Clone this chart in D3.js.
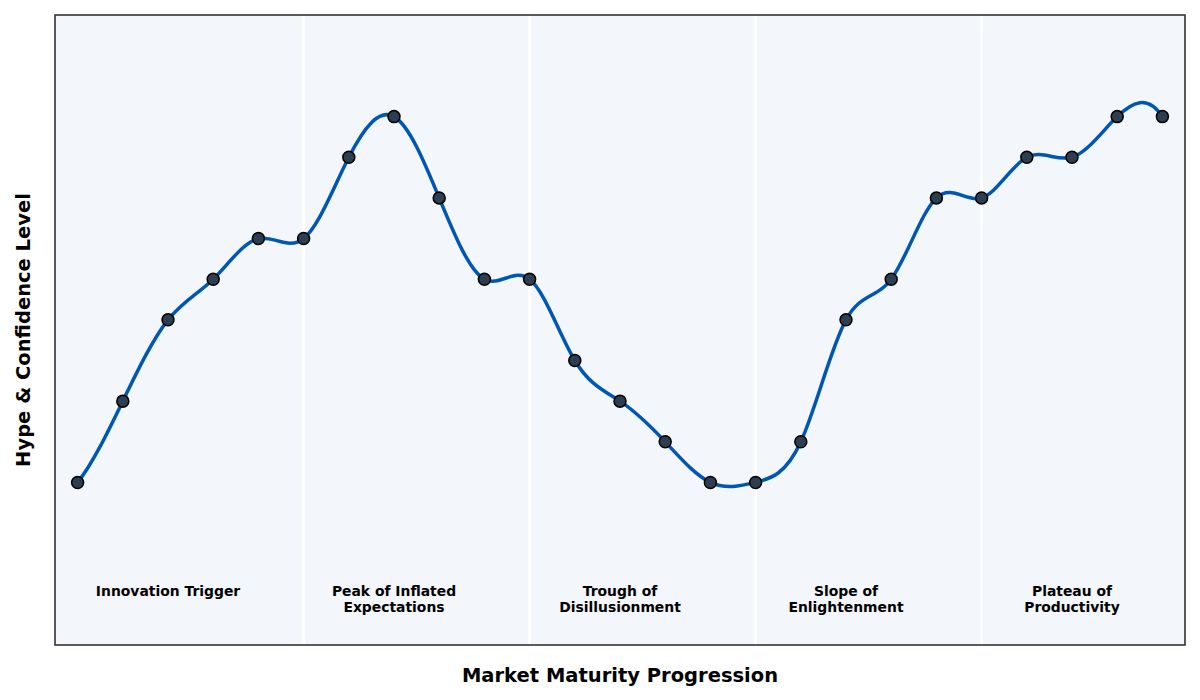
<!DOCTYPE html>
<html>
<head>
<meta charset="utf-8">
<script src="https://cdn.jsdelivr.net/npm/d3@7"></script>
<style>
  body { margin: 0; background: #fff; }
  text { font-family: "DejaVu Sans", sans-serif; }
</style>
</head>
<body>
<div id="chart"></div>
<script>
// hype cycle values, one per step
const steps = d3.range(25);
const hype = [1, 3, 5, 6, 7, 7, 9, 10, 8, 6, 6, 4, 3, 2, 1, 1, 2, 5, 6, 8, 8, 9, 9, 10, 10];

const phaseNames = [
  ["Innovation Trigger"],
  ["Peak of Inflated", "Expectations"],
  ["Trough of", "Disillusionment"],
  ["Slope of", "Enlightenment"],
  ["Plateau of", "Productivity"]
];
const phaseCenters = [2, 7, 12, 17, 22];
const phaseBreaks = [5, 10, 15, 20];

const width = 1200;
const height = 700;
const margin = { top: 15, right: 15, bottom: 55, left: 55 };

// not-a-knot cubic spline as a d3 curve
function curveSpline(context) {
  let xs, ys;
  return {
    areaStart() {},
    areaEnd() {},
    lineStart() { xs = []; ys = []; },
    point(px, py) { xs.push(+px); ys.push(+py); },
    lineEnd() {
      const n = xs.length;
      if (n < 4) {
        xs.forEach((px, i) => i ? context.lineTo(px, ys[i]) : context.moveTo(px, ys[i]));
        return;
      }
      const h = d3.range(n - 1).map(i => xs[i + 1] - xs[i]);
      const A = d3.range(n).map(() => new Array(n).fill(0));
      const b = new Array(n).fill(0);
      A[0][0] = h[1]; A[0][1] = -(h[0] + h[1]); A[0][2] = h[0];
      for (let i = 1; i < n - 1; i++) {
        A[i][i - 1] = h[i - 1];
        A[i][i] = 2 * (h[i - 1] + h[i]);
        A[i][i + 1] = h[i];
        b[i] = 6 * ((ys[i + 1] - ys[i]) / h[i] - (ys[i] - ys[i - 1]) / h[i - 1]);
      }
      A[n - 1][n - 3] = h[n - 2]; A[n - 1][n - 2] = -(h[n - 3] + h[n - 2]); A[n - 1][n - 1] = h[n - 3];
      // gaussian elimination with pivoting
      for (let c = 0; c < n; c++) {
        let p = c;
        for (let r = c + 1; r < n; r++) if (Math.abs(A[r][c]) > Math.abs(A[p][c])) p = r;
        [A[c], A[p]] = [A[p], A[c]]; [b[c], b[p]] = [b[p], b[c]];
        for (let r = c + 1; r < n; r++) {
          const f = A[r][c] / A[c][c];
          if (!f) continue;
          for (let k = c; k < n; k++) A[r][k] -= f * A[c][k];
          b[r] -= f * b[c];
        }
      }
      const M = new Array(n).fill(0);
      for (let r = n - 1; r >= 0; r--) {
        let s = b[r];
        for (let k = r + 1; k < n; k++) s -= A[r][k] * M[k];
        M[r] = s / A[r][r];
      }
      context.moveTo(xs[0], ys[0]);
      for (let i = 0; i < n - 1; i++) {
        const hi = h[i];
        const slope = (ys[i + 1] - ys[i]) / hi;
        const d0 = slope - hi * (2 * M[i] + M[i + 1]) / 6;
        const d1 = slope + hi * (M[i] + 2 * M[i + 1]) / 6;
        context.bezierCurveTo(
          xs[i] + hi / 3, ys[i] + d0 * hi / 3,
          xs[i + 1] - hi / 3, ys[i + 1] - d1 * hi / 3,
          xs[i + 1], ys[i + 1]);
      }
    }
  };
}

const svg = d3.select("#chart")
  .append("svg")
  .attr("width", width)
  .attr("height", height);

const x = d3.scaleLinear()
  .domain([-0.5, 24.5])
  .range([margin.left, width - margin.right]);

const y = d3.scaleLinear()
  .domain([-3, 12.5])
  .range([height - margin.bottom, margin.top]);

svg.append("rect")
  .attr("x", margin.left)
  .attr("y", margin.top)
  .attr("width", width - margin.left - margin.right)
  .attr("height", height - margin.top - margin.bottom)
  .style("fill", "#f3f6fa");

svg.append("g")
  .selectAll("line")
  .data(phaseBreaks)
  .enter()
  .append("line")
  .attr("x1", d => x(d))
  .attr("x2", d => x(d))
  .attr("y1", margin.top)
  .attr("y2", height - margin.bottom)
  .style("stroke", "#ffffff")
  .style("stroke-width", 3);

const line = d3.line()
  .x((d, i) => x(steps[i]))
  .y(d => y(d))
  .curve(curveSpline);

svg.append("path")
  .datum(hype)
  .attr("d", line)
  .style("fill", "none")
  .style("stroke", "#0057b3")
  .style("stroke-width", 3.5);

svg.append("g")
  .selectAll("circle")
  .data(hype)
  .enter()
  .append("circle")
  .attr("cx", (d, i) => x(steps[i]))
  .attr("cy", d => y(d))
  .attr("r", 6)
  .style("fill", "#2c3e50")
  .style("stroke", "#000")
  .style("stroke-width", 1.5);

const labels = svg.append("g")
  .selectAll("text")
  .data(phaseNames)
  .enter()
  .append("text")
  .attr("x", (d, i) => x(phaseCenters[i]))
  .attr("y", y(-1.5))
  .attr("text-anchor", "middle")
  .style("font-size", "13.9px")
  .style("font-weight", "bold");

labels.selectAll("tspan")
  .data(d => d)
  .enter()
  .append("tspan")
  .attr("x", function () { return d3.select(this.parentNode).attr("x"); })
  .attr("dy", (d, i) => i === 0 ? "0.85em" : "1.15em")
  .text(d => d);

svg.append("rect")
  .attr("x", margin.left)
  .attr("y", margin.top)
  .attr("width", width - margin.left - margin.right)
  .attr("height", height - margin.bottom - margin.top)
  .style("fill", "none")
  .style("stroke", "#333")
  .style("stroke-width", 1.6);

svg.append("text")
  .attr("x", (margin.left + width - margin.right) / 2)
  .attr("y", 682)
  .attr("text-anchor", "middle")
  .style("font-size", "19.5px")
  .style("font-weight", "bold")
  .text("Market Maturity Progression");

svg.append("text")
  .attr("transform", `translate(30,${(margin.top + height - margin.bottom) / 2}) rotate(-90)`)
  .attr("text-anchor", "middle")
  .style("font-size", "19.5px")
  .style("font-weight", "bold")
  .text("Hype & Confidence Level");
</script>
</body>
</html>
